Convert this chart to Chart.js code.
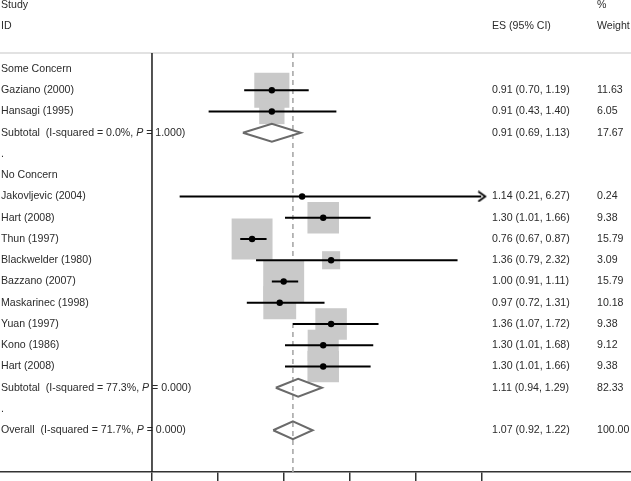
<!DOCTYPE html>
<html>
<head>
<meta charset="utf-8">
<script src="https://cdn.jsdelivr.net/npm/chart.js@4/dist/chart.umd.min.js"></script>
<style>
  body { margin: 0; background: #fff; }
  #wrap { width: 631px; height: 481px; position: relative; }
</style>
</head>
<body>
<div id="wrap"><canvas id="forest"></canvas></div>
<script>
// Forest plot: effect sizes per study, grouped by level of concern

// study rows
const studies = ['Gaziano (2000)', 'Hansagi (1995)', 'Jakovljevic (2004)', 'Hart (2008)', 'Thun (1997)',
  'Blackwelder (1980)', 'Bazzano (2007)', 'Maskarinec (1998)', 'Yuan (1997)', 'Kono (1986)', 'Hart (2008)'];
const studyRows = [1, 2, 6, 7, 8, 9, 10, 11, 12, 13, 14];
const es = [0.91, 0.91, 1.14, 1.30, 0.76, 1.36, 1.00, 0.97, 1.36, 1.30, 1.30];
const lower = [0.70, 0.43, 0.21, 1.01, 0.67, 0.79, 0.91, 0.72, 1.07, 1.01, 1.01];
const upper = [1.19, 1.40, 6.27, 1.66, 0.87, 2.32, 1.11, 1.31, 1.72, 1.68, 1.66];
const weight = [11.63, 6.05, 0.24, 9.38, 15.79, 3.09, 15.79, 10.18, 9.38, 9.12, 9.38];

// group headings and pooled estimates
const groups = ['Some Concern', 'No Concern'];
const groupRows = [0, 5];
const spacerRows = [4, 16];
const pooledNames = ['Subtotal', 'Subtotal', 'Overall'];
const pooledRows = [3, 15, 17];
const pooledES = [0.91, 1.11, 1.07];
const pooledLower = [0.69, 0.94, 0.92];
const pooledUpper = [1.13, 1.29, 1.22];
const pooledWeight = [17.67, 82.33, 100.00];
const iSquared = ['0.0%', '77.3%', '71.7%'];
const pValues = ['1.000', '0.000', '0.000'];

const overallES = 1.07;
const tickValues = [0, 0.5, 1, 1.5, 2, 2.5];

// styling
const textColor = '#2b2b2b';
const fontFamily = '"Liberation Sans", Arial, Helvetica, sans-serif';
const fontSize = 10.6;
const boxScale = 7.28;      // rect radius per sqrt(weight)
const diamondHalf = 0.42;   // half height of pooled diamonds, in rows
const xMin = -1.154, xMax = 3.637;
const yMin = -3.247, yMax = 18.965;
const headerLine = -0.75;
const xLimit = tickValues[tickValues.length - 1];

const fmt = v => v.toFixed(2);

// open arrow head for CIs that run off the axis
const arrow = document.createElement('canvas');
arrow.width = 12; arrow.height = 12;
(function () {
  const c = arrow.getContext('2d');
  c.strokeStyle = '#000';
  c.lineWidth = 1.8;
  c.beginPath();
  c.moveTo(3, 1); c.lineTo(10, 6); c.lineTo(3, 11);
  c.stroke();
})();

const datasets = [];

// point estimates
datasets.push({
  data: studies.map((s, i) => ({ x: es[i], y: studyRows[i] })),
  pointStyle: 'circle',
  pointRadius: 3.2,
  backgroundColor: '#000',
  borderColor: '#000',
  borderWidth: 0,
  order: 0
});

// arrows for clipped intervals
datasets.push({
  data: studies.map((s, i) => ({ x: xLimit, y: upper[i] > xLimit ? studyRows[i] : null })),
  pointStyle: arrow,
  pointRadius: 6,
  order: 1
});

// confidence intervals
studies.forEach((s, i) => {
  datasets.push({
    data: [{ x: lower[i], y: studyRows[i] }, { x: Math.min(upper[i], xLimit), y: studyRows[i] }],
    showLine: true,
    borderColor: '#000',
    borderWidth: 2,
    pointRadius: 0,
    order: 2
  });
});

// pooled diamonds
pooledRows.forEach((r, i) => {
  datasets.push({
    data: [
      { x: pooledLower[i], y: r },
      { x: pooledES[i], y: r - diamondHalf },
      { x: pooledUpper[i], y: r },
      { x: pooledES[i], y: r + diamondHalf },
      { x: pooledLower[i], y: r }
    ],
    showLine: true,
    borderColor: '#6a6a6a',
    borderWidth: 2,
    borderJoinStyle: 'miter',
    pointRadius: 0,
    order: 3
  });
});

// weight boxes
datasets.push({
  data: studies.map((s, i) => ({ x: es[i], y: studyRows[i] })),
  pointStyle: 'rect',
  pointRadius: ctx => boxScale * Math.sqrt(weight[ctx.dataIndex]),
  backgroundColor: '#c9c9c9',
  borderWidth: 0,
  order: 4
});

// null line, overall line and header rule
datasets.push({
  data: [{ x: 0, y: headerLine }, { x: 0, y: yMax }],
  showLine: true, borderColor: '#1a1a1a', borderWidth: 1.5, pointRadius: 0, order: 5
});
datasets.push({
  data: [{ x: overallES, y: headerLine }, { x: overallES, y: yMax }],
  showLine: true, borderColor: '#a8a8a8', borderWidth: 1.6, borderDash: [5, 4], pointRadius: 0, order: 5
});
datasets.push({
  data: [{ x: xMin, y: headerLine }, { x: xMax, y: headerLine }],
  showLine: true, borderColor: '#e2e2e2', borderWidth: 2, pointRadius: 0, order: 6
});

// text columns drawn at the rows of the y scale
const forestText = {
  id: 'forestText',
  beforeDatasetsDraw(chart) {
    const ctx = chart.ctx;
    const yScale = chart.scales.y;
    const normal = fontSize + 'px ' + fontFamily;
    const italic = 'italic ' + normal;
    ctx.save();
    ctx.fillStyle = textColor;
    ctx.textBaseline = 'middle';
    ctx.font = normal;
    const put = (s, x, row) => ctx.fillText(s, x, yScale.getPixelForValue(row));

    put('Study', 1, -3);
    put('ID', 1, -2);
    put('%', 597, -3);
    put('ES (95% CI)', 492, -2);
    put('Weight', 597, -2);

    groups.forEach((g, i) => put(g, 1, groupRows[i]));
    spacerRows.forEach(r => put('.', 1, r));

    studies.forEach((s, i) => {
      put(s, 1, studyRows[i]);
      put(fmt(es[i]) + ' (' + fmt(lower[i]) + ', ' + fmt(upper[i]) + ')', 492, studyRows[i]);
      put(fmt(weight[i]), 597, studyRows[i]);
    });

    pooledRows.forEach((r, i) => {
      let x = 1;
      const a = pooledNames[i] + '  (I-squared = ' + iSquared[i] + ', ';
      put(a, x, r);
      x += ctx.measureText(a).width;
      ctx.font = italic;
      put('P', x, r);
      x += ctx.measureText('P').width;
      ctx.font = normal;
      put(' = ' + pValues[i] + ')', x, r);
      put(fmt(pooledES[i]) + ' (' + fmt(pooledLower[i]) + ', ' + fmt(pooledUpper[i]) + ')', 492, r);
      put(fmt(pooledWeight[i]), 597, r);
    });
    ctx.restore();
  }
};

new Chart(document.getElementById('forest'), {
  type: 'scatter',
  data: { datasets },
  options: {
    responsive: true,
    maintainAspectRatio: false,
    animation: false,
    events: [],
    layout: { padding: 0, autoPadding: false },
    scales: {
      x: {
        type: 'linear',
        min: xMin,
        max: xMax,
        afterBuildTicks: scale => { scale.ticks = tickValues.map(v => ({ value: v })); },
        ticks: { display: false },
        grid: { drawOnChartArea: false, drawTicks: true, tickLength: 9, color: '#333', lineWidth: 1.5 },
        border: { display: true, color: '#333', width: 1.5 }
      },
      y: {
        type: 'linear',
        reverse: true,
        min: yMin,
        max: yMax,
        display: false
      }
    },
    plugins: {
      legend: { display: false },
      tooltip: { enabled: false }
    }
  },
  plugins: [forestText]
});
</script>
</body>
</html>
